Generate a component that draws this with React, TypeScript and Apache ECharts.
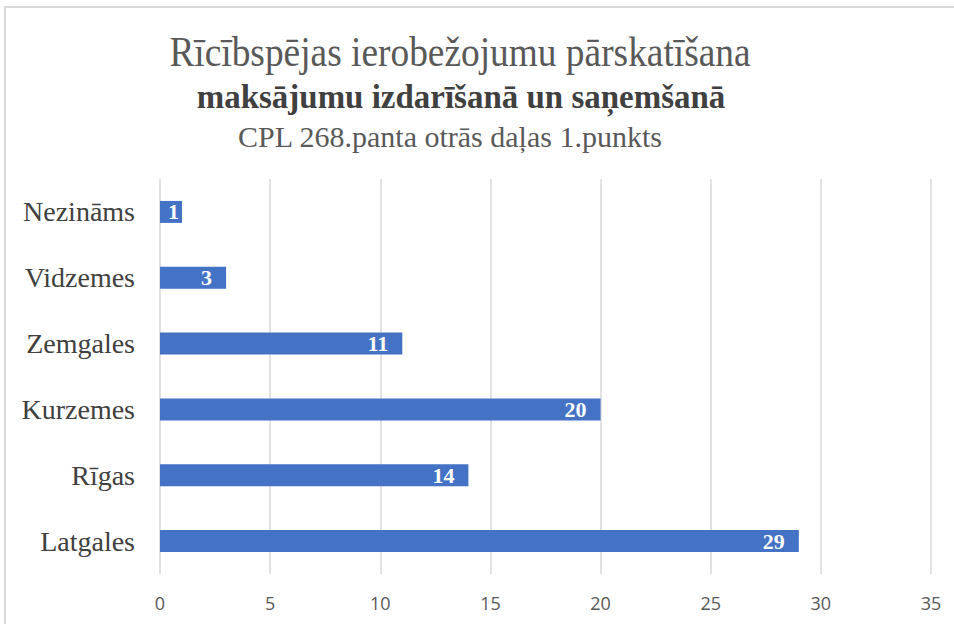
import React, { useEffect, useRef } from "react";
import * as echarts from "echarts";

const categories = ["Latgales", "Rīgas", "Kurzemes", "Zemgales", "Vidzemes", "Nezināms"];
const values = [29, 14, 20, 11, 3, 1];
const titleLines = [
  "Rīcībspējas ierobežojumu pārskatīšana",
  "maksājumu izdarīšanā un saņemšanā",
  "CPL 268.panta otrās daļas 1.punkts",
];

const SERIF = "'Liberation Serif', 'Times New Roman', serif";
const SANS = "'Open Sans', 'Liberation Sans', sans-serif";

export default function App() {
  const ref = useRef<HTMLDivElement>(null);
  useEffect(() => {
    if (!ref.current) return;
    const chart = echarts.init(ref.current, undefined, { renderer: "svg" });
    chart.setOption({
      animation: false,
      backgroundColor: "#ffffff",
      graphic: [
        {
          type: "rect",
          shape: { x: 5, y: 7, width: 1000, height: 1000 },
          style: { fill: "none", stroke: "#d9d9d9", lineWidth: 2 },
          silent: true,
        },
        {
          type: "text",
          x: 460,
          y: 52,
          scaleX: 0.89,
          style: {
            text: titleLines[0],
            font: `42px ${SERIF}`,
            fill: "#595959",
            align: "center",
            verticalAlign: "middle",
          },
        },
        {
          type: "text",
          x: 461,
          y: 96,
          scaleX: 0.97,
          style: {
            text: titleLines[1],
            font: `bold 34px ${SERIF}`,
            fill: "#404040",
            align: "center",
            verticalAlign: "middle",
          },
        },
        {
          type: "text",
          x: 450,
          y: 136,
          scaleX: 1.0,
          style: {
            text: titleLines[2],
            font: `30px ${SERIF}`,
            fill: "#595959",
            align: "center",
            verticalAlign: "middle",
          },
        },
      ],
      grid: { left: 160, right: 23, top: 179, bottom: 50, containLabel: false },
      xAxis: {
        type: "value",
        min: 0,
        max: 35,
        interval: 5,
        axisLine: { show: false },
        axisTick: { show: false },
        splitLine: { show: true, lineStyle: { color: "#d9d9d9", width: 1.5 } },
        axisLabel: { color: "#595959", fontSize: 18, fontFamily: SANS, margin: 20 },
      },
      yAxis: {
        type: "category",
        data: categories,
        axisLine: { show: false },
        axisTick: { show: false },
        splitLine: { show: false },
        axisLabel: { color: "#404040", fontSize: 28, fontFamily: SERIF, margin: 25 },
      },
      series: [
        {
          type: "bar",
          data: values.map((v) =>
            v < 2 ? { value: v, label: { position: "insideRight", distance: 3 } } : v
          ),
          barWidth: 22,
          itemStyle: { color: "#4472c4" },
          label: {
            show: true,
            position: "insideRight",
            distance: 14,
            color: "#ffffff",
            fontWeight: "bold",
            fontSize: 22,
            fontFamily: SERIF,
          },
        },
      ],
    });
    return () => chart.dispose();
  }, []);
  return (
    <div
      ref={ref}
      style={{ position: "fixed", left: 0, top: 0, width: 954, height: 624 }}
    />
  );
}
